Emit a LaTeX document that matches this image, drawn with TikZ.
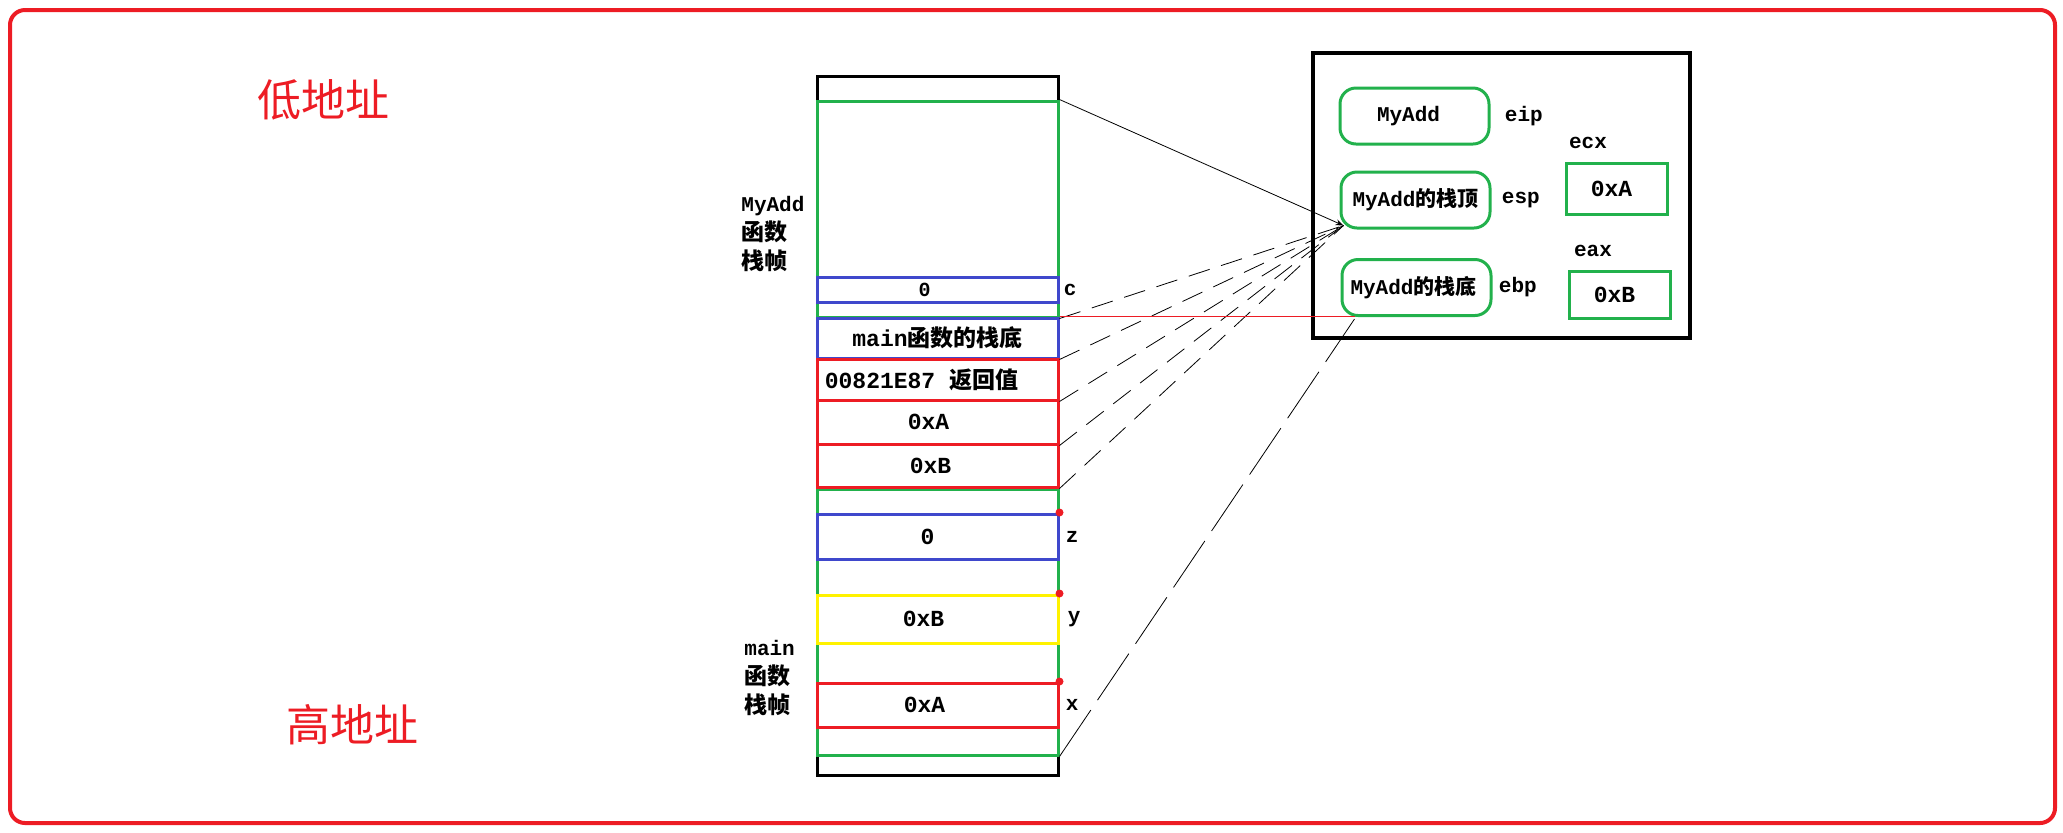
\documentclass[tikz,border=0pt]{standalone}
\usepackage{fontspec}
\setmainfont{Liberation Mono}
\newfontfamily\cjk{Noto Sans CJK SC}
\usepackage{tikz}
\usetikzlibrary{positioning, arrows.meta}

\definecolor{pred}{RGB}{237,28,36}
\definecolor{pgreen}{RGB}{34,177,76}
\definecolor{pblue}{RGB}{63,72,204}
\definecolor{pyellow}{RGB}{255,242,0}

\begin{document}
\begin{tikzpicture}[
  x=0.5pt, y=-0.5pt,
  cell/.style={draw, line width=1.5pt, minimum width=120.5pt, inner sep=0pt, font=\bfseries\fontsize{11.5}{13}\selectfont},
  frame/.style={draw=pgreen, line width=1.5pt, minimum width=120.5pt, inner sep=0pt},
  reg/.style={draw=pgreen, line width=1.5pt, rounded corners=8pt, minimum width=74.5pt, minimum height=28pt, inner sep=0pt, font=\bfseries\fontsize{10.5}{12}\selectfont},
  val/.style={draw=pgreen, line width=1.5pt, minimum width=50.5pt, inner sep=0pt, font=\bfseries\fontsize{11.5}{13}\selectfont},
  tag/.style={inner sep=0pt, font=\bfseries\fontsize{10.5}{12}\selectfont},
  side/.style={inner sep=0pt, align=left, anchor=west, font=\bfseries\fontsize{10.5}{14.5}\selectfont},
  addr/.style={text=pred, font=\cjk\fontsize{22}{24}\selectfont},
  link/.style={black, line width=0.4pt},
  dlink/.style={black, line width=0.4pt, dash pattern=on 11pt off 6pt},
  llink/.style={black, line width=0.4pt, dash pattern=on 28pt off 6pt}
]
  \useasboundingbox (0,0) rectangle (2063,832);
  \draw[pred, line width=2pt, rounded corners=7.5pt] (10,10) rectangle (2055,823);

  \node[addr] (low) at (323,100) {低地址};
  \node[addr] (high) at (352,725) {高地址};

  % stack
  \node[draw, line width=1.5pt, minimum width=120.5pt, minimum height=349.5pt] (stack) at (937.5,425.5) {};
  \node[frame, minimum height=108pt] (myaddframe) at (937.5,209) {};
  \node[frame, minimum height=133pt] (mainframe) at (937.5,622) {};

  \node[cell, draw=pblue, minimum height=12.5pt, font=\bfseries\fontsize{10}{10}\selectfont] (cbox) at (937.5,289.5) {0\kern13pt};
  \node[cell, draw=pblue, minimum height=20pt] (mainebp) at (937.5,338) {main{\cjk 函数的栈底}};
  \node[cell, draw=pred, minimum height=20.5pt] (ret) at (937.5,379.5) {00821E87 {\cjk 返回值}\kern16pt};
  \node[cell, draw=pred, minimum height=22pt] (argA) at (937.5,422) {0xA\kern9pt};
  \node[cell, draw=pred, minimum height=21.5pt] (argB) at (937.5,465.5) {0xB\kern7pt};
  \node[cell, draw=pblue, minimum height=22.5pt] (varz) at (937.5,536.5) {0\kern10pt};
  \node[cell, draw=pyellow, minimum height=24pt] (vary) at (937.5,619) {0xB\kern14pt};
  \node[cell, draw=pred, minimum height=22pt] (varx) at (937.5,705) {0xA\kern13pt};

  \node[tag, right=2pt of cbox] (clabel) {c};
  \node[tag, right=3pt of varz] (zlabel) {z};
  \node[tag, right=4pt of vary] (ylabel) {y};
  \node[tag, right=3pt of varx] (xlabel) {x};

  \fill[pred] (varz.north east) circle (2pt);
  \fill[pred] (vary.north east) circle (2pt);
  \fill[pred] (varx.north east) circle (2pt);

  \node[side] (myaddlabel) at (741,234) {MyAdd\\{\cjk\fontsize{11.5}{14}\selectfont 函数}\\{\cjk\fontsize{11.5}{14}\selectfont 栈帧}};
  \node[side] (mainlabel) at (744,678) {main\\{\cjk\fontsize{11.5}{14}\selectfont 函数}\\{\cjk\fontsize{11.5}{14}\selectfont 栈帧}};

  % registers
  \node[draw, line width=2pt, minimum width=188.5pt, minimum height=142.5pt] (cpu) at (1501.5,195.5) {};
  \node[reg] (eipbox) at (1414.5,116) {MyAdd\kern6pt};
  \node[reg] (espbox) at (1415.5,200) {MyAdd{\cjk 的栈顶}};
  \node[reg] (ebpbox) at (1416.5,287.5) {MyAdd{\cjk 的栈底}\kern3pt};
  \node[tag, right=7pt of eipbox] (eip) {eip};
  \node[tag, right=5pt of espbox] (esp) {esp};
  \node[tag, right=3pt of ebpbox] (ebp) {ebp};

  \node[val, minimum height=25.5pt] (ecxbox) at (1616.5,188.5) {0xA\kern5pt};
  \node[val, minimum height=23.5pt] (eaxbox) at (1619.5,294.5) {0xB\kern5pt};
  \node[tag] (ecx) at (1588,143) {ecx};
  \node[tag] (eax) at (1593,251) {eax};

  \coordinate (esptip) at ([xshift=2pt,yshift=2pt]espbox.south west);
  \coordinate (ebptip) at ([xshift=7pt,yshift=-1pt]ebpbox.south west);

  \draw[link, -{Stealth[length=4pt,width=3pt]}] (myaddframe.north east) -- (esptip);
  \draw[dlink] (myaddframe.south east) -- (esptip);
  \draw[dlink] (mainebp.south east) -- (esptip);
  \draw[dlink] (ret.south east) -- (esptip);
  \draw[dlink] (argA.south east) -- (esptip);
  \draw[dlink] (argB.south east) -- (esptip);
  \draw[pred, line width=0.4pt] (mainebp.north east) -- (mainebp.north east -| ebptip);
  \draw[llink] (mainframe.south east) -- (ebptip);
\end{tikzpicture}
\end{document}
